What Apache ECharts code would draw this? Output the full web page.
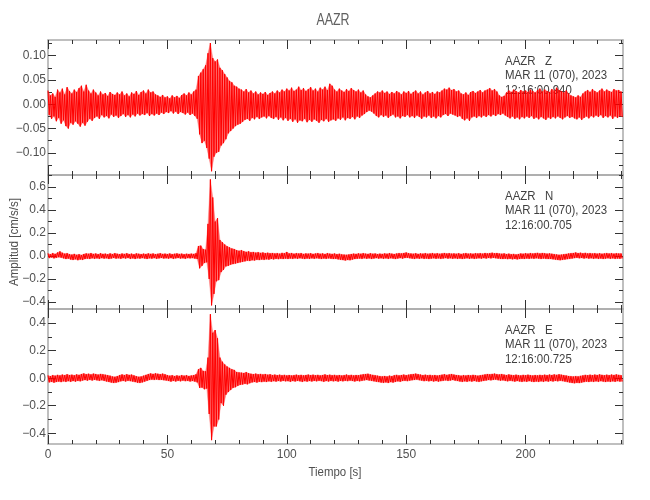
<!DOCTYPE html>
<html>
<head>
<meta charset="utf-8">
<script src="https://cdn.jsdelivr.net/npm/echarts@6/dist/echarts.min.js"></script>
<style>html,body{margin:0;padding:0;background:#fff}#c{width:650px;height:500px}</style>
</head>
<body>
<div id="c"></div>
<script>
// ---- data (envelope: per 1-s bin, upper peak and lower trough) ----
const binSeconds = 1;
const hiZ = [
0.028,0.018,0.022,0.015,0.030,0.024,0.032,0.020,0.035,0.027,
0.022,0.030,0.025,0.033,0.038,0.026,0.040,0.028,0.022,0.030,
0.024,0.018,0.026,0.020,0.023,0.017,0.025,0.021,0.019,0.024,
0.020,0.026,0.018,0.022,0.016,0.024,0.021,0.027,0.019,0.025,
0.028,0.022,0.030,0.024,0.026,0.020,0.018,0.015,0.019,0.014,
0.016,0.012,0.018,0.014,0.017,0.013,0.019,0.022,0.018,0.024,
0.020,0.026,0.030,0.058,0.065,0.072,0.080,0.105,0.126,0.095,
0.088,0.092,0.075,0.070,0.062,0.055,0.048,0.045,0.038,0.036,
0.032,0.030,0.026,0.031,0.024,0.028,0.022,0.026,0.020,0.024,
0.021,0.025,0.019,0.023,0.026,0.022,0.028,0.024,0.030,0.026,
0.032,0.028,0.034,0.027,0.030,0.036,0.029,0.033,0.027,0.031,
0.035,0.028,0.032,0.026,0.034,0.030,0.036,0.029,0.042,0.038,
0.030,0.026,0.032,0.028,0.025,0.031,0.027,0.033,0.029,0.026,
0.030,0.024,0.028,0.020,0.016,0.014,0.018,0.022,0.026,0.024,
0.028,0.023,0.026,0.021,0.025,0.022,0.027,0.024,0.020,0.026,
0.023,0.027,0.021,0.025,0.028,0.022,0.026,0.020,0.024,0.027,
0.022,0.025,0.021,0.026,0.024,0.028,0.032,0.030,0.034,0.029,
0.031,0.026,0.028,0.022,0.020,0.024,0.019,0.025,0.027,0.023,
0.026,0.029,0.024,0.028,0.030,0.033,0.028,0.031,0.026,0.018,
0.015,0.017,0.024,0.028,0.025,0.030,0.027,0.024,0.029,0.026,
0.028,0.025,0.030,0.027,0.024,0.029,0.032,0.026,0.030,0.027,
0.025,0.031,0.028,0.034,0.029,0.027,0.024,0.028,0.022,0.018,
0.016,0.014,0.018,0.015,0.022,0.026,0.029,0.025,0.031,0.027,
0.024,0.028,0.032,0.026,0.030,0.027,0.025,0.031,0.028,0.029,
0.026];
const loZ = [
-0.022,-0.030,-0.025,-0.035,-0.028,-0.040,-0.033,-0.045,-0.050,-0.038,
-0.042,-0.035,-0.040,-0.046,-0.038,-0.044,-0.036,-0.030,-0.034,-0.028,
-0.025,-0.030,-0.022,-0.027,-0.024,-0.029,-0.021,-0.026,-0.023,-0.028,
-0.024,-0.020,-0.026,-0.022,-0.027,-0.021,-0.025,-0.019,-0.023,-0.020,
-0.022,-0.018,-0.024,-0.020,-0.023,-0.019,-0.022,-0.017,-0.020,-0.016,
-0.018,-0.014,-0.019,-0.015,-0.020,-0.016,-0.018,-0.021,-0.017,-0.022,
-0.019,-0.024,-0.030,-0.062,-0.080,-0.075,-0.090,-0.112,-0.138,-0.108,
-0.100,-0.098,-0.085,-0.080,-0.072,-0.060,-0.055,-0.050,-0.045,-0.042,
-0.040,-0.036,-0.032,-0.030,-0.034,-0.028,-0.031,-0.026,-0.030,-0.027,
-0.025,-0.029,-0.024,-0.028,-0.030,-0.026,-0.032,-0.027,-0.033,-0.028,
-0.034,-0.030,-0.036,-0.031,-0.038,-0.033,-0.035,-0.030,-0.037,-0.032,
-0.036,-0.031,-0.034,-0.038,-0.032,-0.035,-0.030,-0.036,-0.033,-0.031,
-0.034,-0.029,-0.032,-0.027,-0.033,-0.028,-0.030,-0.026,-0.031,-0.025,
-0.028,-0.023,-0.020,-0.016,-0.013,-0.015,-0.019,-0.024,-0.027,-0.022,
-0.026,-0.023,-0.028,-0.024,-0.021,-0.027,-0.025,-0.029,-0.024,-0.026,
-0.022,-0.027,-0.024,-0.028,-0.023,-0.026,-0.030,-0.025,-0.027,-0.023,
-0.028,-0.025,-0.029,-0.024,-0.027,-0.022,-0.020,-0.024,-0.019,-0.021,
-0.023,-0.026,-0.024,-0.030,-0.033,-0.029,-0.034,-0.027,-0.025,-0.028,
-0.024,-0.027,-0.023,-0.026,-0.022,-0.025,-0.021,-0.024,-0.020,-0.022,
-0.019,-0.023,-0.026,-0.029,-0.025,-0.030,-0.027,-0.031,-0.026,-0.029,
-0.025,-0.028,-0.024,-0.030,-0.027,-0.031,-0.026,-0.029,-0.032,-0.027,
-0.030,-0.026,-0.029,-0.025,-0.028,-0.031,-0.027,-0.024,-0.028,-0.026,
-0.029,-0.031,-0.027,-0.032,-0.028,-0.025,-0.029,-0.024,-0.027,-0.023,
-0.026,-0.022,-0.028,-0.024,-0.027,-0.023,-0.030,-0.025,-0.028,-0.024,
-0.026];
const hiN = [
0.022,0.015,0.025,0.018,0.030,0.040,0.028,0.020,0.024,0.016,
0.012,0.018,0.010,0.015,0.009,0.017,0.022,0.019,0.025,0.018,
0.021,0.016,0.023,0.018,0.020,0.015,0.022,0.017,0.024,0.019,
0.016,0.021,0.018,0.023,0.017,0.020,0.015,0.022,0.019,0.016,
0.020,0.017,0.022,0.018,0.021,0.016,0.019,0.023,0.018,0.020,
0.017,0.021,0.016,0.019,0.022,0.018,0.020,0.015,0.019,0.017,
0.020,0.018,0.024,0.087,0.090,0.060,0.055,0.280,0.667,0.510,
0.300,0.330,0.140,0.120,0.100,0.085,0.075,0.065,0.060,0.050,
0.045,0.050,0.042,0.036,0.040,0.032,0.035,0.029,0.033,0.027,
0.030,0.025,0.028,0.023,0.026,0.022,0.025,0.020,0.027,0.024,
0.035,0.022,0.026,0.019,0.024,0.021,0.025,0.018,0.022,0.020,
0.023,0.018,0.021,0.025,0.019,0.022,0.017,0.024,0.020,0.018,
0.021,0.016,0.019,0.014,0.012,0.010,0.013,0.017,0.020,0.018,
0.022,0.019,0.024,0.020,0.018,0.023,0.019,0.021,0.017,0.020,
0.018,0.022,0.019,0.024,0.020,0.017,0.021,0.025,0.022,0.026,
0.030,0.024,0.021,0.019,0.023,0.018,0.022,0.020,0.024,0.019,
0.021,0.025,0.020,0.023,0.019,0.022,0.026,0.021,0.024,0.020,
0.022,0.019,0.023,0.018,0.021,0.025,0.020,0.022,0.019,0.023,
0.021,0.024,0.020,0.026,0.022,0.025,0.028,0.023,0.026,0.021,
0.019,0.022,0.017,0.020,0.015,0.018,0.013,0.017,0.021,0.019,
0.023,0.020,0.025,0.021,0.024,0.027,0.022,0.026,0.023,0.020,
0.022,0.019,0.016,0.013,0.010,0.012,0.015,0.018,0.021,0.024,
0.026,0.030,0.025,0.028,0.023,0.027,0.022,0.025,0.021,0.024,
0.020,0.023,0.019,0.022,0.025,0.021,0.024,0.020,0.023,0.021,
0.022];
const loN = [
-0.018,-0.012,-0.020,-0.015,-0.010,-0.014,-0.020,-0.026,-0.022,-0.030,
-0.034,-0.028,-0.036,-0.030,-0.033,-0.026,-0.022,-0.025,-0.019,-0.023,
-0.020,-0.024,-0.018,-0.022,-0.019,-0.025,-0.021,-0.017,-0.022,-0.019,
-0.023,-0.018,-0.021,-0.017,-0.024,-0.020,-0.025,-0.019,-0.022,-0.018,
-0.021,-0.025,-0.019,-0.022,-0.018,-0.023,-0.020,-0.017,-0.021,-0.019,
-0.022,-0.018,-0.024,-0.020,-0.017,-0.021,-0.019,-0.023,-0.018,-0.020,
-0.018,-0.022,-0.026,-0.107,-0.085,-0.060,-0.055,-0.200,-0.430,-0.330,
-0.220,-0.210,-0.140,-0.120,-0.090,-0.085,-0.075,-0.070,-0.065,-0.060,
-0.055,-0.050,-0.046,-0.040,-0.043,-0.036,-0.038,-0.032,-0.035,-0.030,
-0.033,-0.028,-0.031,-0.026,-0.029,-0.024,-0.027,-0.023,-0.026,-0.022,
-0.025,-0.021,-0.024,-0.020,-0.023,-0.019,-0.022,-0.026,-0.021,-0.024,
-0.020,-0.023,-0.019,-0.022,-0.025,-0.021,-0.024,-0.020,-0.023,-0.026,
-0.024,-0.029,-0.032,-0.035,-0.038,-0.034,-0.036,-0.030,-0.026,-0.023,
-0.021,-0.024,-0.019,-0.023,-0.020,-0.025,-0.021,-0.018,-0.022,-0.019,
-0.023,-0.020,-0.024,-0.019,-0.022,-0.026,-0.021,-0.018,-0.022,-0.017,
-0.015,-0.019,-0.022,-0.025,-0.020,-0.023,-0.019,-0.024,-0.021,-0.025,
-0.022,-0.019,-0.023,-0.020,-0.024,-0.021,-0.018,-0.022,-0.019,-0.023,
-0.020,-0.024,-0.021,-0.025,-0.022,-0.019,-0.023,-0.020,-0.024,-0.021,
-0.019,-0.022,-0.018,-0.021,-0.017,-0.020,-0.016,-0.019,-0.022,-0.024,
-0.026,-0.023,-0.027,-0.024,-0.028,-0.025,-0.029,-0.026,-0.023,-0.025,
-0.021,-0.024,-0.020,-0.023,-0.019,-0.022,-0.025,-0.021,-0.024,-0.026,
-0.025,-0.028,-0.031,-0.034,-0.036,-0.033,-0.030,-0.027,-0.024,-0.021,
-0.018,-0.015,-0.019,-0.017,-0.021,-0.018,-0.022,-0.019,-0.023,-0.020,
-0.024,-0.021,-0.025,-0.022,-0.019,-0.023,-0.020,-0.024,-0.021,-0.023,
-0.020];
const hiE = [
0.020,0.015,0.022,0.018,0.024,0.020,0.026,0.022,0.028,0.023,
0.025,0.021,0.027,0.024,0.030,0.034,0.029,0.032,0.027,0.033,
0.030,0.026,0.031,0.028,0.025,0.022,0.018,0.012,0.010,0.015,
0.022,0.027,0.023,0.028,0.024,0.026,0.020,0.014,0.010,0.012,
0.018,0.024,0.030,0.034,0.031,0.035,0.032,0.029,0.033,0.028,
0.022,0.018,0.021,0.016,0.020,0.017,0.022,0.018,0.021,0.016,
0.019,0.022,0.028,0.065,0.075,0.053,0.050,0.150,0.465,0.330,
0.350,0.290,0.150,0.120,0.100,0.085,0.075,0.065,0.060,0.045,
0.042,0.040,0.038,0.044,0.036,0.032,0.029,0.033,0.028,0.031,
0.027,0.030,0.025,0.028,0.023,0.026,0.022,0.025,0.021,0.024,
0.020,0.023,0.019,0.022,0.025,0.021,0.024,0.020,0.023,0.026,
0.022,0.025,0.021,0.024,0.020,0.023,0.027,0.022,0.025,0.021,
0.024,0.020,0.023,0.019,0.022,0.026,0.021,0.024,0.020,0.023,
0.021,0.025,0.028,0.030,0.032,0.027,0.024,0.021,0.018,0.015,
0.013,0.016,0.012,0.018,0.015,0.021,0.024,0.020,0.023,0.026,
0.022,0.025,0.028,0.030,0.033,0.029,0.026,0.022,0.025,0.021,
0.024,0.020,0.023,0.019,0.022,0.025,0.028,0.024,0.027,0.030,
0.026,0.023,0.021,0.018,0.022,0.019,0.023,0.020,0.024,0.021,
0.018,0.021,0.024,0.027,0.030,0.028,0.031,0.033,0.029,0.027,
0.030,0.026,0.023,0.027,0.024,0.021,0.025,0.022,0.020,0.024,
0.021,0.025,0.022,0.019,0.023,0.020,0.024,0.021,0.025,0.022,
0.026,0.023,0.027,0.024,0.028,0.025,0.022,0.019,0.016,0.014,
0.012,0.015,0.013,0.017,0.020,0.024,0.021,0.025,0.022,0.026,
0.023,0.027,0.024,0.021,0.025,0.022,0.026,0.023,0.027,0.024,
0.022];
const loE = [
-0.030,-0.026,-0.032,-0.027,-0.024,-0.028,-0.022,-0.026,-0.021,-0.025,
-0.020,-0.024,-0.019,-0.022,-0.016,-0.013,-0.017,-0.012,-0.016,-0.011,
-0.015,-0.018,-0.014,-0.019,-0.023,-0.027,-0.031,-0.034,-0.032,-0.028,
-0.022,-0.019,-0.023,-0.018,-0.021,-0.024,-0.028,-0.032,-0.034,-0.030,
-0.024,-0.018,-0.013,-0.010,-0.012,-0.009,-0.013,-0.011,-0.014,-0.016,
-0.020,-0.024,-0.019,-0.023,-0.018,-0.022,-0.017,-0.021,-0.019,-0.023,
-0.020,-0.024,-0.030,-0.070,-0.068,-0.080,-0.075,-0.260,-0.450,-0.350,
-0.350,-0.300,-0.180,-0.200,-0.120,-0.100,-0.085,-0.070,-0.065,-0.055,
-0.048,-0.045,-0.040,-0.044,-0.036,-0.030,-0.027,-0.031,-0.025,-0.028,
-0.024,-0.027,-0.022,-0.025,-0.021,-0.024,-0.020,-0.023,-0.019,-0.022,
-0.021,-0.025,-0.020,-0.023,-0.019,-0.022,-0.026,-0.021,-0.024,-0.020,
-0.023,-0.019,-0.022,-0.018,-0.021,-0.025,-0.020,-0.023,-0.019,-0.022,
-0.020,-0.024,-0.019,-0.022,-0.018,-0.021,-0.017,-0.020,-0.023,-0.019,
-0.022,-0.018,-0.015,-0.013,-0.016,-0.019,-0.022,-0.025,-0.028,-0.031,
-0.033,-0.030,-0.034,-0.028,-0.031,-0.026,-0.022,-0.025,-0.020,-0.018,
-0.021,-0.017,-0.014,-0.012,-0.010,-0.014,-0.017,-0.021,-0.018,-0.022,
-0.019,-0.023,-0.020,-0.024,-0.021,-0.018,-0.015,-0.019,-0.016,-0.013,
-0.017,-0.020,-0.023,-0.026,-0.022,-0.025,-0.021,-0.024,-0.020,-0.023,
-0.026,-0.022,-0.019,-0.016,-0.013,-0.015,-0.012,-0.010,-0.014,-0.017,
-0.015,-0.019,-0.022,-0.018,-0.021,-0.024,-0.020,-0.023,-0.026,-0.022,
-0.025,-0.021,-0.024,-0.027,-0.023,-0.026,-0.022,-0.025,-0.021,-0.024,
-0.020,-0.023,-0.019,-0.022,-0.018,-0.021,-0.024,-0.028,-0.031,-0.034,
-0.036,-0.033,-0.035,-0.031,-0.028,-0.024,-0.027,-0.023,-0.026,-0.022,
-0.025,-0.021,-0.024,-0.027,-0.023,-0.026,-0.022,-0.025,-0.021,-0.024,
-0.023];

// ---- ticks and labels ----
const xMajorTicks = [0, 50, 100, 150, 200];
const xMinorTicks = [10,20,30,40,60,70,80,90,110,120,130,140,160,170,180,190,210,220,230,240];
const yMajorZ = [-0.10, -0.05, 0.00, 0.05, 0.10];
const yMinorZ = [-0.125, -0.075, -0.025, 0.025, 0.075, 0.125];
const yMajorN = [-0.4, -0.2, 0.0, 0.2, 0.4, 0.6];
const yMinorN = [-0.3, -0.1, 0.1, 0.3, 0.5, 0.7];
const yMajorE = [-0.4, -0.2, 0.0, 0.2, 0.4];
const yMinorE = [-0.3, -0.1, 0.1, 0.3];
const yDecimals = [2, 1, 1];
const yRanges = [[-0.1457, 0.1322], [-0.4615, 0.7056], [-0.478, 0.503]];
const xRange = [0, 240.8];

const titleText = 'AAZR';
const xName = 'Tiempo [s]';
const yName = 'Amplitud [cm/s/s]';
const notes = [
  ['AAZR   Z', 'MAR 11 (070), 2023', '12:16:00.940'],
  ['AAZR   N', 'MAR 11 (070), 2023', '12:16:00.705'],
  ['AAZR   E', 'MAR 11 (070), 2023', '12:16:00.725']
];

// ---- build ----
const FONT = "'Liberation Sans', Arial, sans-serif";
const FRAME = '#aaaaaa';
const TICK = '#333333';
const TXT = '#505050';

const his = [hiZ, hiN, hiE];
const los = [loZ, loN, loE];
const yMajors = [yMajorZ, yMajorN, yMajorE];
const yMinors = [yMinorZ, yMinorN, yMinorE];

function traceRenderer(hi, lo) {
  return function (params, api) {
    const top = [], bot = [], zig = [];
    for (let i = 0; i < hi.length; i++) {
      const a = api.coord([i * binSeconds, hi[i]]);
      const b = api.coord([i * binSeconds + binSeconds / 2, lo[i]]);
      top.push(a); bot.push(b); zig.push(a, b);
    }
    return {type: 'group', children: [
      {type: 'polygon', shape: {points: top.concat(bot.reverse())},
        style: {fill: 'rgba(255,0,0,0.55)', stroke: 'rgba(255,80,80,0.5)', lineWidth: 0.6}},
      {type: 'polyline', shape: {points: zig},
        style: {fill: null, stroke: '#ff0000', lineWidth: 1}}
    ]};
  };
}

const grids = [
  {left: 48, width: 575, top: 40, height: 135},
  {left: 48, width: 575, top: 175, height: 134},
  {left: 48, width: 575, top: 309, height: 135}
];

const xAxes = [], yAxes = [], series = [], graphics = [];
grids.forEach((g, i) => {
  const lastPanel = i === 2;
  ['bottom', 'top'].forEach(pos => {
    xAxes.push({
      type: 'value', gridIndex: i, position: pos, min: xRange[0], max: xRange[1],
      axisLine: {show: true, onZero: false, lineStyle: {color: FRAME, width: 1.5}},
      axisTick: {show: true, inside: true, length: 9, customValues: xMajorTicks, lineStyle: {color: TICK, width: 1}},
      axisLabel: {show: lastPanel && pos === 'bottom', customValues: xMajorTicks, color: TXT, fontFamily: FONT, fontSize: 12, margin: 5},
      splitLine: {show: false}
    });
    xAxes.push({
      type: 'value', gridIndex: i, position: pos, min: xRange[0], max: xRange[1],
      axisLine: {show: false, onZero: false},
      axisTick: {show: true, inside: true, length: 4, customValues: xMinorTicks, lineStyle: {color: TICK, width: 1}},
      axisLabel: {show: false},
      splitLine: {show: false}
    });
  });
  ['left', 'right'].forEach(pos => {
    yAxes.push({
      type: 'value', gridIndex: i, position: pos, min: yRanges[i][0], max: yRanges[i][1],
      axisLine: {show: true, onZero: false, lineStyle: {color: FRAME, width: 1.5}},
      axisTick: {show: true, inside: true, length: 8, customValues: yMajors[i], lineStyle: {color: TICK, width: 1}},
      axisLabel: {show: pos === 'left', customValues: yMajors[i], color: TXT, fontFamily: FONT, fontSize: 12, margin: 2,
        formatter: v => Number(v).toFixed(yDecimals[i]).replace('-', '\u2212')},
      splitLine: {show: false}
    });
    yAxes.push({
      type: 'value', gridIndex: i, position: pos, min: yRanges[i][0], max: yRanges[i][1],
      axisLine: {show: false, onZero: false},
      axisTick: {show: true, inside: true, length: 4, customValues: yMinors[i], lineStyle: {color: TICK, width: 1}},
      axisLabel: {show: false},
      splitLine: {show: false}
    });
  });
  series.push({
    type: 'custom', xAxisIndex: 4 * i, yAxisIndex: 4 * i, data: [[0, 0]],
    renderItem: traceRenderer(his[i], los[i]),
    animation: false, silent: true, z: 3
  });
  notes[i].forEach((line, k) => {
    graphics.push({
      type: 'text', x: 505, y: g.top + 21 + k * 14.6, scaleX: 0.88, z: 1,
      style: {text: line, fill: '#404040', font: '13px ' + FONT, verticalAlign: 'middle'}
    });
  });
});

graphics.push({
  type: 'text', x: 14, y: 242, rotation: Math.PI / 2, scaleX: 0.89,
  style: {text: yName, fill: TXT, font: '13px ' + FONT, align: 'center', verticalAlign: 'middle'}
});
graphics.push({
  type: 'text', x: 335, y: 472, scaleX: 0.88,
  style: {text: xName, fill: TXT, font: '13px ' + FONT, align: 'center', verticalAlign: 'middle'}
});
graphics.push({
  type: 'text', x: 333, y: 20, scaleX: 0.73,
  style: {text: titleText, fill: '#606060', font: '17px ' + FONT, align: 'center', verticalAlign: 'middle'}
});

const chart = echarts.init(document.getElementById('c'), null, {renderer: 'canvas'});
chart.setOption({
  backgroundColor: '#ffffff',
  animation: false,
  grid: grids,
  xAxis: xAxes,
  yAxis: yAxes,
  series: series,
  graphic: graphics
});
</script>
</body>
</html>
